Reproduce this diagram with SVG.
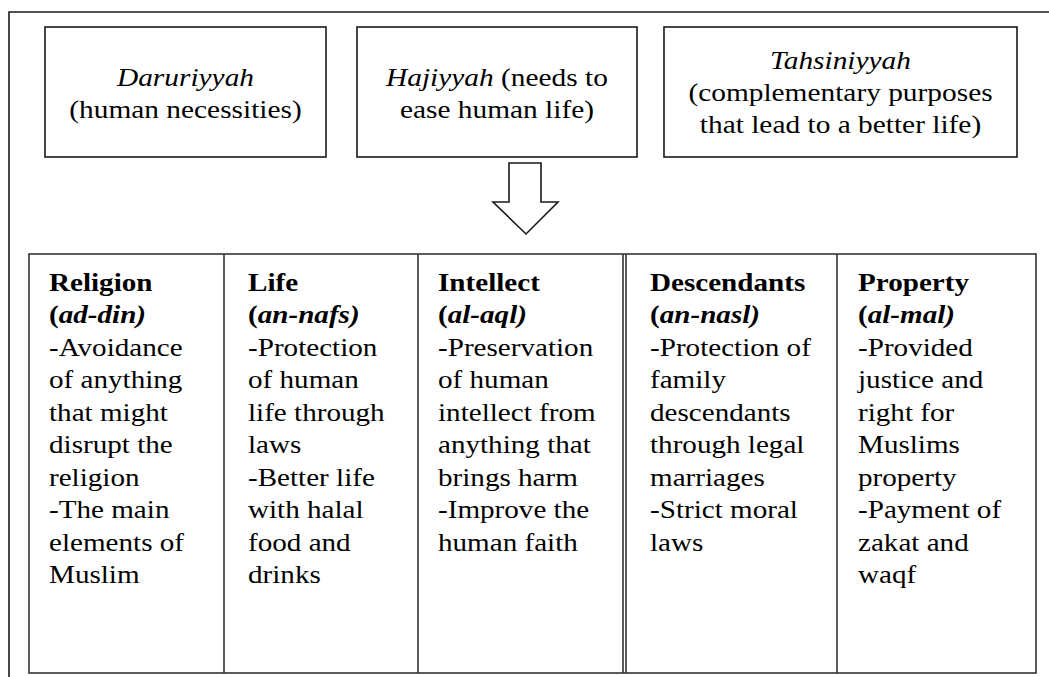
<svg xmlns="http://www.w3.org/2000/svg" width="1049" height="677" viewBox="0 0 1049 677">
<style>
.ln{fill:none;stroke:#1a1a1a;stroke-width:1.6}
.tl{fill:none;stroke:#333;stroke-width:1.6}
text{font-family:'Liberation Serif','Times New Roman',serif;font-size:26px;fill:#000}
.c{text-anchor:middle}
.b{font-weight:bold}
.i{font-style:italic}
</style>
<rect width="1049" height="677" fill="#fff"/>
<path class="ln" d="M9,677 V12 H1049"/>
<g id="daruriyyah">
<rect class="ln" x="45" y="27" width="281" height="130"/>
<g transform="translate(185.5,0) scale(1.13,1)">
<text class="c i" x="0" y="86">Daruriyyah</text>
<text class="c" x="0" y="118">(human necessities)</text>
</g>
</g>
<g id="hajiyyah">
<rect class="ln" x="357" y="27" width="280" height="130"/>
<g transform="translate(497,0) scale(1.13,1)">
<text class="c" x="0" y="86"><tspan class="i">Hajiyyah</tspan> (needs to</text>
<text class="c" x="0" y="118">ease human life)</text>
</g>
</g>
<g id="tahsiniyyah">
<rect class="ln" x="664" y="27" width="353" height="130"/>
<g transform="translate(840.5,0) scale(1.13,1)">
<text class="c i" x="0" y="69">Tahsiniyyah</text>
<text class="c" x="0" y="101">(complementary purposes</text>
<text class="c" x="0" y="133">that lead to a better life)</text>
</g>
</g>
<g id="connectors">
<polygon class="ln" points="509,163 541,163 541,202 558,202 526,234 493,202 509,202" fill="#fff"/>
</g>
<g id="table">
<rect class="tl" x="29" y="254" width="1007" height="419"/>
<line class="tl" x1="224" y1="254" x2="224" y2="673"/>
<line class="tl" x1="418" y1="254" x2="418" y2="673"/>
<line class="tl" x1="623" y1="254" x2="623" y2="673"/>
<line class="tl" x1="626" y1="254" x2="626" y2="673"/>
<line class="tl" x1="837" y1="254" x2="837" y2="673"/>
</g>
<g id="religion" transform="translate(49,0) scale(1.12,1)">
<text class="b" x="0" y="291">Religion</text>
<text class="b" x="0" y="323.5">(<tspan class="i">ad-din)</tspan></text>
<text x="0" y="356">-Avoidance</text>
<text x="0" y="388.5">of anything</text>
<text x="0" y="421">that might</text>
<text x="0" y="453.5">disrupt the</text>
<text x="0" y="486">religion</text>
<text x="0" y="518.5">-The main</text>
<text x="0" y="551">elements of</text>
<text x="0" y="583.5">Muslim</text>
</g>
<g id="life" transform="translate(248,0) scale(1.12,1)">
<text class="b" x="0" y="291">Life</text>
<text class="b" x="0" y="323.5">(<tspan class="i">an-nafs)</tspan></text>
<text x="0" y="356">-Protection</text>
<text x="0" y="388.5">of human</text>
<text x="0" y="421">life through</text>
<text x="0" y="453.5">laws</text>
<text x="0" y="486">-Better life</text>
<text x="0" y="518.5">with halal</text>
<text x="0" y="551">food and</text>
<text x="0" y="583.5">drinks</text>
</g>
<g id="intellect" transform="translate(438,0) scale(1.12,1)">
<text class="b" x="0" y="291">Intellect</text>
<text class="b" x="0" y="323.5">(<tspan class="i">al-aql)</tspan></text>
<text x="0" y="356">-Preservation</text>
<text x="0" y="388.5">of human</text>
<text x="0" y="421">intellect from</text>
<text x="0" y="453.5">anything that</text>
<text x="0" y="486">brings harm</text>
<text x="0" y="518.5">-Improve the</text>
<text x="0" y="551">human faith</text>
</g>
<g id="descendants" transform="translate(650,0) scale(1.12,1)">
<text class="b" x="0" y="291">Descendants</text>
<text class="b" x="0" y="323.5">(<tspan class="i">an-nasl)</tspan></text>
<text x="0" y="356">-Protection of</text>
<text x="0" y="388.5">family</text>
<text x="0" y="421">descendants</text>
<text x="0" y="453.5">through legal</text>
<text x="0" y="486">marriages</text>
<text x="0" y="518.5">-Strict moral</text>
<text x="0" y="551">laws</text>
</g>
<g id="property" transform="translate(858,0) scale(1.12,1)">
<text class="b" x="0" y="291">Property</text>
<text class="b" x="0" y="323.5">(<tspan class="i">al-mal)</tspan></text>
<text x="0" y="356">-Provided</text>
<text x="0" y="388.5">justice and</text>
<text x="0" y="421">right for</text>
<text x="0" y="453.5">Muslims</text>
<text x="0" y="486">property</text>
<text x="0" y="518.5">-Payment of</text>
<text x="0" y="551">zakat and</text>
<text x="0" y="583.5">waqf</text>
</g>
</svg>
